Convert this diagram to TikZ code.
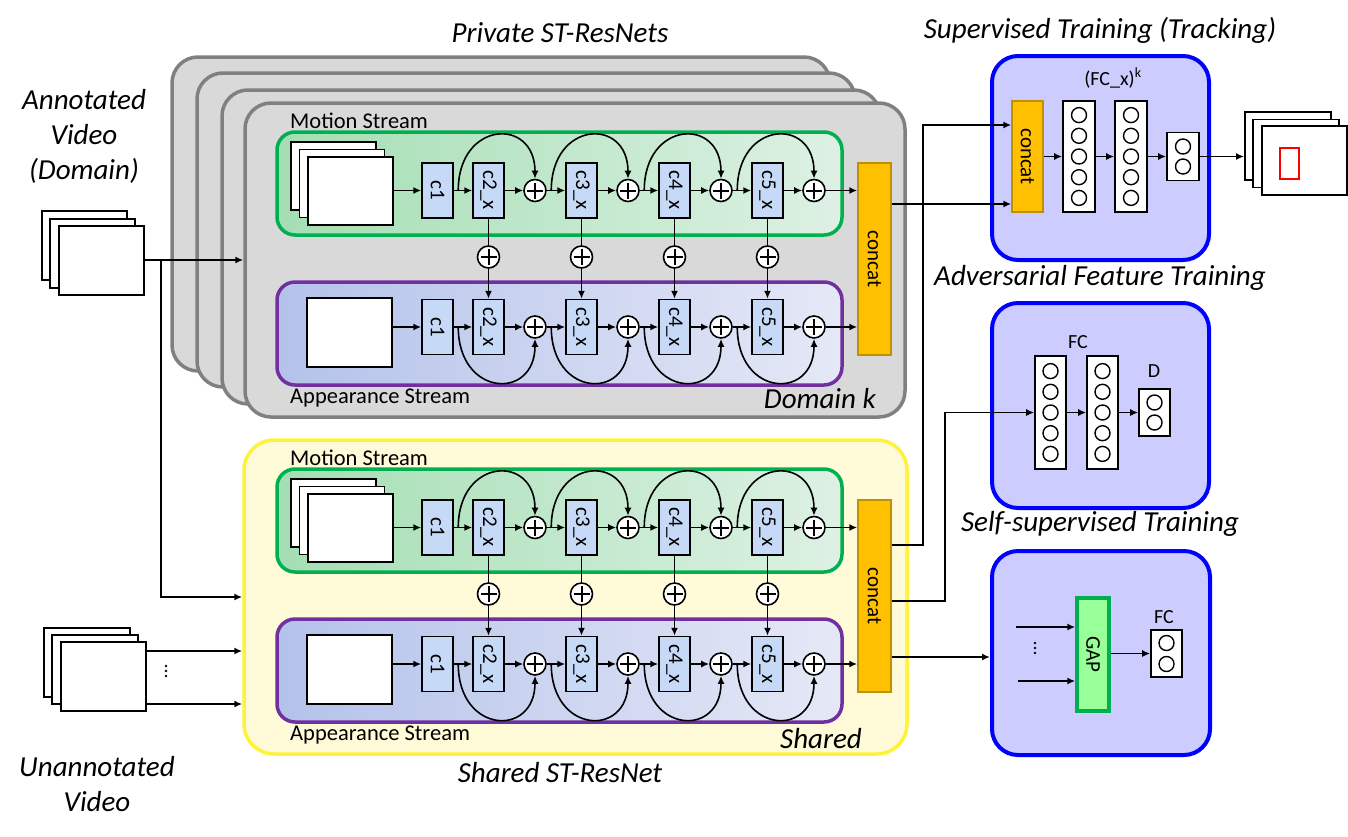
\documentclass[tikz,border=0pt]{standalone}
\usepackage{fontspec}
\setmainfont{Carlito}
\usetikzlibrary{arrows.meta}
\definecolor{grayf}{HTML}{D9D9D9}
\definecolor{grayb}{HTML}{808080}
\definecolor{greenb}{HTML}{00B050}
\definecolor{greenL}{HTML}{A4DEB3}
\definecolor{greenR}{HTML}{DDF1E4}
\definecolor{purpb}{HTML}{7030A0}
\definecolor{purpL}{HTML}{B4C2EA}
\definecolor{purpR}{HTML}{E5E8F6}
\definecolor{blockc}{HTML}{C6D9F6}
\definecolor{yelf}{HTML}{FFFAD7}
\definecolor{yelb}{HTML}{FFF23A}
\definecolor{panelf}{HTML}{CCCCFF}
\definecolor{panelb}{HTML}{0000FF}
\definecolor{concf}{HTML}{FFC000}
\definecolor{concb}{HTML}{BF9000}
\definecolor{gapf}{HTML}{99FF99}
\newcommand{\fs}[1]{\fontsize{#1}{#1}\selectfont}
\tikzset{
  arr/.style={line width=1.6pt,-{Latex[length=8pt,width=7pt]}},
  ln/.style={line width=1.6pt},
  vframe/.style={draw,line width=1.8pt,fill=white,minimum width=85pt,minimum height=69pt,inner sep=0pt},
  blk/.style={draw,line width=1.5pt,fill=blockc,minimum width=31pt,minimum height=55pt,inner sep=0pt,font=\fs{21}},
  plusnode/.style={circle,draw,line width=1.6pt,fill=white,minimum size=22pt,inner sep=0pt,
     path picture={\draw[line width=2pt] ([yshift=-3pt]path picture bounding box.north) -- ([yshift=3pt]path picture bounding box.south) ([xshift=3pt]path picture bounding box.west) -- ([xshift=-3pt]path picture bounding box.east);}},
  gbox/.style={draw=grayb,fill=grayf,line width=3.5pt,rounded corners=26pt,minimum width=658pt,minimum height=314pt},
  greenbox/.style={draw=greenb,line width=3.5pt,rounded corners=18pt,left color=greenL,right color=greenR,minimum width=565pt,minimum height=103pt},
  purpbox/.style={draw=purpb,line width=3.5pt,rounded corners=18pt,left color=purpL,right color=purpR,minimum width=565pt,minimum height=103pt},
  concatbox/.style={draw=concb,line width=1.5pt,fill=concf,inner sep=0pt,font=\fs{21}},
  panel/.style={draw=panelb,fill=panelf,line width=4pt,rounded corners=26pt,minimum width=217pt,minimum height=204pt},
  col/.style={draw,line width=1.6pt,fill=white,minimum width=32pt,inner sep=0pt},
  neu/.style={circle,draw,line width=1.4pt,minimum size=15pt,inner sep=0pt},
  lbl/.style={font=\fontsize{22.5}{23}\selectfont,inner sep=0pt},
  ttl/.style={font=\fontsize{29}{35}\selectfont\itshape,inner sep=0pt},
  smalll/.style={font=\fs{20},inner sep=0pt},
}
\newcommand{\vdotsat}[1]{%
  \fill (#1) ++(0pt,5pt) circle (1.4pt);
  \fill (#1) circle (1.4pt);
  \fill (#1) ++(0pt,-5pt) circle (1.4pt);
}
\newcommand{\twostream}[1]{%
  \node[greenbox] (#1G) at (559.5,183.5) {};
  \node[purpbox] (#1P) at (559.5,333.5) {};
  \node[lbl,anchor=base west] (#1MT) at (290,128) {Motion Stream};
  \node[lbl,anchor=base west] (#1AT) at (290,403) {Appearance Stream};
  \node[vframe,minimum height=68pt] (#1F1) at (333.5,176) {};
  \node[vframe,minimum height=68pt] (#1F2) at (342,183.5) {};
  \node[vframe,minimum height=68pt] (#1F3) at (350.5,191) {};
  \node[vframe] (#1AF) at (349.5,332.5) {};
  \node[blk] (#1m1) at (437.5,190.5) {\rotatebox{-90}{c1}};
  \node[blk] (#1a1) at (437.5,327) {\rotatebox{-90}{c1}};
  \foreach \i/\bx/\px in {2/488.5/535,3/581.5/628,4/674.5/721,5/767.5/814}{
    \node[blk] (#1m\i) at (\bx,190.5) {\rotatebox{-90}{c\i\_x}};
    \node[blk] (#1a\i) at (\bx,327) {\rotatebox{-90}{c\i\_x}};
    \node[plusnode] (#1mp\i) at (\px,190.5) {};
    \node[plusnode] (#1ap\i) at (\px,327) {};
    \node[plusnode] (#1vp\i) at (\bx,257) {};
    \draw[ln] (#1m\i.south) -- (#1vp\i.north);
    \draw[arr] (#1vp\i.south) -- (#1a\i.north);
    \draw[arr] (#1m\i.east) -- (#1mp\i.west);
    \draw[arr] (#1a\i.east) -- (#1ap\i.west);
    \draw[arr] ([xshift=-14pt]#1m\i.west) .. controls +(0pt,70pt) and +(0pt,62pt) .. (#1mp\i.north);
    \draw[arr] ([xshift=-14pt]#1a\i.west) .. controls +(0pt,-70pt) and +(0pt,-62pt) .. (#1ap\i.south);
  }
  \node[concatbox,minimum width=33pt,minimum height=192pt] (#1cc) at (874.5,259) {\rotatebox{-90}{concat}};
  \draw[arr] (#1F3.east |- #1m1.west) -- (#1m1.west);
  \draw[arr] (#1AF.east |- #1a1.west) -- (#1a1.west);
  \draw[arr] (#1m1.east) -- (#1m2.west);
  \draw[arr] (#1a1.east) -- (#1a2.west);
  \foreach \i/\j in {2/3,3/4,4/5}{
    \draw[arr] (#1mp\i.east) -- (#1m\j.west);
    \draw[arr] (#1ap\i.east) -- (#1a\j.west);
  }
  \draw[arr] (#1mp5.east) -- (#1cc.west |- #1mp5.east);
  \draw[arr] (#1ap5.east) -- (#1cc.west |- #1ap5.east);
}
\begin{document}
\begin{tikzpicture}[x=1pt,y=-1pt]
\useasboundingbox (0,0) rectangle (1348,836);
% titles
\node[ttl] (tPriv) at (560,33) {Private ST-ResNets};
\node[ttl] (tSup) at (1100,30) {Supervised Training (Tracking)};
\node[ttl] (tAdv) at (1100,278) {Adversarial Feature Training};
\node[ttl] (tSelf) at (1100,524) {Self-supervised Training};
\node[ttl] (tShr) at (560,773) {Shared ST-ResNet};
\node[ttl,align=center] (tAnn) at (84,136) {Annotated\\Video\\(Domain)};
\node[ttl,align=center] (tUn) at (97,784) {Unannotated\\Video};
% private stack
\node[gbox] (B1) at (501,214) {};
\node[gbox] (B2) at (526,230) {};
\node[gbox] (B3) at (551,247) {};
\node[gbox,minimum width=660pt] (B4) at (575,260) {};
\twostream{p}
\node[ttl,anchor=base east] (tDom) at (876,408) {Domain k};
% shared
\node[draw=yelb,fill=yelf,line width=3.5pt,rounded corners=30pt,minimum width=663pt,minimum height=314pt] (Y) at (575.5,597) {};
\begin{scope}[yshift=-337pt]
\twostream{s}
\end{scope}
\node[ttl,anchor=base east] (tSh) at (862,748) {Shared};
% input videos
\node[vframe] (af1) at (84.5,245.5) {};
\node[vframe] (af2) at (92.5,253.5) {};
\node[vframe] (af3) at (101.5,260.5) {};
\node[vframe,minimum width=86pt] (uf1) at (87,662.5) {};
\node[vframe,minimum width=86pt] (uf2) at (95,669.5) {};
\node[vframe] (uf3) at (103.5,676.5) {};
\coordinate (j1) at (161,260);
\coordinate (j2) at (161,597);
\draw[arr] (af3.east |- j1) -- (B4.west |- j1);
\draw[arr] (j1) -- (j2) -- (Y.west |- j2);
\coordinate (u1) at (150,651);
\coordinate (u2) at (150,704);
\draw[arr] (uf3.east |- u1) -- (Y.west |- u1);
\draw[arr] (uf3.east |- u2) -- (Y.west |- u2);
\coordinate (ud) at (166,671);
\vdotsat{ud}
% panel 1
\node[panel] (P1) at (1100.5,158) {};
\node[smalll] (P1l) at (1113,78) {(FC\_x)\textsuperscript{k}};
\node[concatbox,minimum width=31pt,minimum height=111pt] (tcc) at (1027.5,156.5) {\rotatebox{-90}{concat}};
\node[col,minimum height=111pt] (s1) at (1079,156.5) {};
\node[col,minimum height=111pt] (s2) at (1131,156.5) {};
\node[col,minimum height=48pt] (s3) at (1183,156.5) {};
\foreach \k in {-2,...,2}{
  \node[neu] (s1n\k) at (1079,{156.5+20.7*\k}) {};
  \node[neu] (s2n\k) at (1131,{156.5+20.7*\k}) {};
}
\node[neu] (s3a) at (1183,146.5) {};
\node[neu] (s3b) at (1183,166.5) {};
\draw[arr] (tcc.east) -- (s1.west);
\draw[arr] (s1.east) -- (s2.west);
\draw[arr] (s2.east) -- (s3.west);
\node[vframe,minimum width=86pt,minimum height=68pt] (of1) at (1288,146) {};
\node[vframe,minimum width=86pt,minimum height=68pt] (of2) at (1296,153.5) {};
\node[vframe,minimum width=85pt,minimum height=69pt] (of3) at (1304.5,160.5) {};
\node[draw=red,line width=2.5pt,minimum width=19pt,minimum height=31pt,inner sep=0pt] (bb) at (1289.5,163.5) {};
\draw[arr] (s3.east) -- (of1.west |- s3.east);
% panel 2
\node[panel,minimum height=205pt] (P2) at (1100.5,405.5) {};
\node[smalll] (P2l) at (1078,342) {FC};
\node[col,minimum width=31pt,minimum height=113pt] (d1) at (1050.5,412.5) {};
\node[col,minimum width=31pt,minimum height=113pt] (d2) at (1102.5,412.5) {};
\foreach \k in {-2,...,2}{
  \node[neu] (d1n\k) at (1050.5,{412.5+20.7*\k}) {};
  \node[neu] (d2n\k) at (1102.5,{412.5+20.7*\k}) {};
}
\node[smalll] (P2d) at (1154,371) {D};
\node[col,minimum width=31pt,minimum height=47pt] (d3) at (1154.5,412.5) {};
\node[neu] (d3a) at (1154.5,402.5) {};
\node[neu] (d3b) at (1154.5,422.5) {};
\draw[arr] (d1.east) -- (d2.west);
\draw[arr] (d2.east) -- (d3.west);
% panel 3
\node[panel,minimum width=218pt] (P3) at (1101,653) {};
\node[draw=greenb,fill=gapf,line width=3.5pt,minimum width=32pt,minimum height=113pt,inner sep=0pt,font=\fs{21}] (gap) at (1093,654.5) {\rotatebox{-90}{GAP}};
\node[smalll] (P3l) at (1164,617) {FC};
\node[col,minimum width=31pt,minimum height=47pt] (e1) at (1166.5,653.5) {};
\node[neu] (e1a) at (1166.5,643) {};
\node[neu] (e1b) at (1166.5,664) {};
\coordinate (g1) at (1016,627);
\coordinate (g2) at (1018,681);
\draw[arr] (g1) -- (gap.west |- g1);
\draw[arr] (g2) -- (gap.west |- g2);
\coordinate (gd) at (1035,648);
\vdotsat{gd}
\draw[arr] (gap.east |- e1.west) -- (e1.west);
% connections from concat
\coordinate (o0) at (900,204);
\draw[arr] (pcc.east |- o0) -- (tcc.west |- o0);
\coordinate (o1) at (923,545);
\coordinate (t1) at (923,125);
\draw[arr] (scc.east |- o1) -- (o1) -- (t1) -- (tcc.west |- t1);
\coordinate (o2) at (945,601);
\coordinate (t2) at (945,412.5);
\draw[arr] (scc.east |- o2) -- (o2) -- (t2) -- (d1.west |- t2);
\coordinate (o3) at (900,657);
\draw[arr] (scc.east |- o3) -- (P3.west |- o3);
\end{tikzpicture}
\end{document}
